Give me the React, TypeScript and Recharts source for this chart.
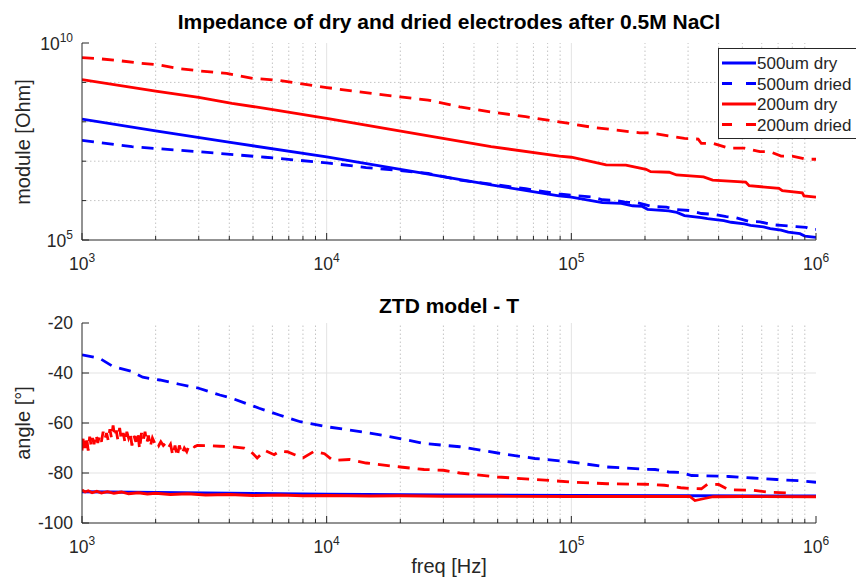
import { LineChart, Line, XAxis, YAxis, ReferenceLine, Legend } from 'recharts';

const FONT = '"Liberation Sans", Arial, Helvetica, sans-serif';
const AX = '#262626';
const BLUE = '#0000ff';
const RED = '#ff0000';
const DASH = '12 8';
const LW = 2.8;

// ---- module [Ohm] ----
const dry500Freq = [1e3, 2e3, 4.1e3, 1e4, 2.5e4, 4.7e4, 8.9e4, 1e5, 1.34e5, 1.6e5, 1.78e5, 1.95e5, 2.05e5, 2.5e5, 2.7e5, 2.9e5, 3.4e5, 3.6e5, 4.2e5, 4.5e5, 5.1e5, 5.4e5, 6.1e5, 6.5e5, 7.2e5, 7.7e5, 8.6e5, 9e5, 1e6];
const dry500Mod = [1.175e8, 5.89e7, 2.95e7, 1.29e7, 4.9e6, 2.51e6, 1.32e6, 1.23e6, 8.9e5, 8.5e5, 7.4e5, 7.1e5, 6.0e5, 5.5e5, 5.0e5, 4.17e5, 3.7e5, 3.47e5, 3.09e5, 2.82e5, 2.57e5, 2.34e5, 2.14e5, 1.95e5, 1.78e5, 1.58e5, 1.45e5, 1.26e5, 1.17e5];

const dried500Freq = [1e3, 1.6e3, 3e3, 5.6e3, 1e4, 1.45e4, 2e4, 2.6e4, 3.5e4, 4.7e4, 6.5e4, 8.9e4, 1.07e5, 1.22e5, 1.34e5, 1.52e5, 1.66e5, 1.86e5, 2.14e5, 2.45e5, 2.69e5, 3.04e5, 3.4e5, 3.8e5, 4.3e5, 4.7e5, 5.3e5, 5.9e5, 6.6e5, 7.2e5, 8.3e5, 9.1e5, 9.5e5, 1e6];
const dried500Mod = [3.39e7, 2.34e7, 1.74e7, 1.26e7, 9.1e6, 6.9e6, 5.75e6, 4.9e6, 3.31e6, 2.63e6, 2.0e6, 1.48e6, 1.32e6, 1.23e6, 1.05e6, 1.0e6, 9.1e5, 8.9e5, 7.1e5, 6.8e5, 5.9e5, 5.6e5, 4.7e5, 4.5e5, 3.9e5, 3.7e5, 3.0e5, 2.9e5, 2.45e5, 2.34e5, 2.19e5, 2.09e5, 1.9e5, 1.86e5];

const dry200Freq = [1e3, 2e3, 3e3, 4.1e3, 5.6e3, 1e4, 2.5e4, 4.7e4, 8.93e4, 1e5, 1.387e5, 1.67e5, 2.02e5, 2.11e5, 2.51e5, 2.69e5, 3.47e5, 3.78e5, 5.16e5, 5.33e5, 7.06e5, 7.28e5, 8.79e5, 8.93e5, 1e6];
const dry200Mod = [1.175e9, 6.03e8, 4.17e8, 2.95e8, 2.19e8, 1.23e8, 4.57e7, 2.34e7, 1.35e7, 1.26e7, 8.04e6, 7.94e6, 6.24e6, 5.43e6, 5.25e6, 4.47e6, 3.98e6, 3.31e6, 2.95e6, 2.4e6, 2.04e6, 1.78e6, 1.58e6, 1.32e6, 1.23e6];

const dried200Freq = [1e3, 1.18e3, 1.38e3, 1.72e3, 2.08e3, 2.5e3, 3.03e3, 3.9e3, 5e3, 6.2e3, 7.8e3, 1e4, 1.36e4, 2e4, 2.6e4, 3.5e4, 4.7e4, 6.5e4, 8.9e4, 1.22e5, 1.9e5, 2.1e5, 2.9e5, 3.3e5, 3.4e5, 3.8e5, 4.4e5, 5.1e5, 5.9e5, 6.5e5, 7.2e5, 8e5, 9.1e5, 1e6];
const dried200Mod = [4.27e9, 3.98e9, 3.63e9, 3.09e9, 2.75e9, 2.24e9, 1.95e9, 1.7e9, 1.26e9, 1.15e9, 9.3e8, 7.4e8, 5.75e8, 4.27e8, 3.55e8, 2.4e8, 1.78e8, 1.35e8, 1.0e8, 7.24e7, 5.25e7, 5.25e7, 3.8e7, 3.63e7, 2.82e7, 2.82e7, 2.14e7, 2.14e7, 1.74e7, 1.74e7, 1.35e7, 1.35e7, 1.12e7, 1.12e7];

// ---- angle [deg] ----
const dry500AngFreq = [1e3, 2e3, 5e3, 1e4, 3e4, 1e5, 3e5, 1e6];
const dry500Ang = [-87.5, -87.8, -88.2, -88.5, -88.8, -89, -89.1, -89.2];

const dried500AngFreq = [1e3, 1.18e3, 1.34e3, 1.6e3, 1.77e3, 2.08e3, 2.5e3, 3e3, 3.66e3, 4.1e3, 5.3e3, 6.4e3, 7.8e3, 1e4, 1.24e4, 1.7e4, 2.5e4, 3.5e4, 5e4, 7.1e4, 1e5, 1.4e5, 2e5, 2.2e5, 2.5e5, 2.8e5, 3.1e5, 3.5e5, 4.4e5, 5.5e5, 6.9e5, 8.9e5, 1e6];
const dried500Ang = [-32.7, -34.1, -37.4, -39.4, -41.7, -42.8, -44.5, -46.1, -48.8, -50.1, -54.1, -56.8, -59.5, -61.5, -62.8, -64.9, -68.2, -69.5, -72, -74.2, -75.6, -77.6, -78.5, -78.6, -79.6, -79.8, -81, -81.1, -81.4, -82, -82.6, -83.2, -83.7];

const dry200AngFreq = [1e3, 1.03e3, 1.06e3, 1.1e3, 1.15e3, 1.2e3, 1.27e3, 1.35e3, 1.45e3, 1.55e3, 1.7e3, 1.85e3, 2e3, 2.3e3, 2.7e3, 3.2e3, 4e3, 5e3, 6.5e3, 8e3, 1e4, 1.5e4, 2e4, 3e4, 5e4, 1e5, 2e5, 3.05e5, 3.2e5, 3.5e5, 3.8e5, 5e5, 1e6];
const dry200Ang = [-86.8, -87.6, -87.1, -87.9, -87.3, -88.0, -87.5, -88.1, -87.6, -88.3, -87.9, -88.4, -88.1, -88.6, -88.3, -88.8, -88.6, -89, -88.8, -89.1, -89, -89.2, -89.1, -89.3, -89.3, -89.4, -89.4, -89.4, -91, -90.2, -89.5, -89.4, -89.5];

const dried200AngFreq = [
  1000, 1015, 1030, 1045, 1060, 1075, 1090, 1105, 1120, 1140, 1160, 1180, 1200, 1220, 1240, 1260, 1280, 1300, 1320, 1340,
  1360, 1380, 1400, 1425, 1450, 1475, 1500, 1525, 1550, 1575, 1600, 1630, 1660, 1690, 1720, 1750, 1780, 1810, 1840, 1870,
  1900, 1940, 1980, 2020, 2060, 2100, 2150, 2200, 2250, 2300, 2350, 2400, 2450, 2500, 2560, 2620, 2680, 2740, 2800, 2880,
  2960, 3.3e3, 3.66e3, 4.1e3, 4.6e3, 4.85e3, 5.2e3, 5.6e3, 6.1e3, 6.4e3, 6.9e3, 7.4e3, 8e3, 8.9e3, 9.8e3, 1.06e4, 1.24e4,
  1.45e4, 2e4, 2.5e4, 3e4, 3.5e4, 5e4, 7.1e4, 1e5, 1.4e5, 2e5, 2.4e5, 2.8e5, 3.1e5, 3.4e5, 3.6e5, 4e5, 4.4e5, 5.5e5, 6.3e5,
  7.9e5, 1e6,
];
const dried200Ang = [
  -71, -65, -70, -66, -71, -65.5, -69, -66, -68.5, -64.5, -68, -65, -67.5, -63.5, -66.5, -64, -67, -62.5, -66, -61,
  -65.5, -63, -66.5, -62, -67, -64, -68, -63.5, -66, -64, -69, -65, -67.5, -63.5, -70.5, -64, -67, -63.5, -68, -65,
  -69.5, -66, -68, -67, -69, -67.5, -69, -68, -70, -68.5, -73, -69, -73.5, -69, -72.5, -70, -71.5, -69, -68.5, -69.5,
  -69, -69.1, -69.3, -69.5, -70, -71, -74, -71, -72.7, -71.3, -71.5, -72.7, -74, -71.3, -72.3, -75, -74.6,
  -76, -77.6, -78.6, -78.9, -80, -81.6, -82.6, -83.6, -84.3, -84.5, -84.9, -85.9, -86.2, -86.3, -84.5, -84.6, -86.7, -86.9,
  -87.6, -88,
];

// ---- axes ----
const freqDecades = [1e3, 1e4, 1e5, 1e6];
const freqMinor = [2e3, 3e3, 4e3, 5e3, 6e3, 7e3, 8e3, 9e3, 2e4, 3e4, 4e4, 5e4, 6e4, 7e4, 8e4, 9e4, 2e5, 3e5, 4e5, 5e5, 6e5, 7e5, 8e5, 9e5];
const freqTicks = [...freqDecades, ...freqMinor].sort((a, b) => a - b);
const modLabelled = [1e5, 1e10];
const modMinor = [1e6, 1e7, 1e8, 1e9];
const modTicks = [1e5, 1e6, 1e7, 1e8, 1e9, 1e10];
const angleTicks = [-100, -80, -60, -40, -20];
const angleGrid = [-80, -60, -40];

const legendNames = ['500um dry', '500um dried', '200um dry', '200um dried'];

const pts = (f: number[], v: number[]) => f.map((x, i) => ({ f: x, v: v[i] }));
const isDecade = (v: number) => Math.abs(Math.log10(v) - Math.round(Math.log10(v))) < 1e-6;
const expOf = (v: number) => Math.round(Math.log10(v));

const PowLabel = ({ x, y, v, anchor }: any) => (
  <text x={x} y={y} textAnchor={anchor} fontFamily={FONT} fontSize={17.5} fill={AX}>
    <tspan>10</tspan>
    <tspan dy={-8} fontSize={12}>{expOf(v)}</tspan>
  </text>
);

const FreqTickBottom = (props: any) => {
  const { x, y, payload } = props;
  const major = isDecade(payload.value);
  return (
    <g>
      <line x1={x} x2={x} y1={y} y2={y - (major ? 7 : 4)} stroke={AX} />
      {major && <PowLabel x={x} y={y + 30} v={payload.value} anchor="middle" />}
    </g>
  );
};

const FreqTickTop = (props: any) => {
  const { x, y, payload } = props;
  const major = isDecade(payload.value);
  return <line x1={x} x2={x} y1={y} y2={y + (major ? 7 : 4)} stroke={AX} />;
};

const ModTickLeft = (props: any) => {
  const { x, y, payload } = props;
  const major = modLabelled.includes(payload.value);
  return (
    <g>
      <line x1={x} x2={x + (major ? 7 : 4)} y1={y} y2={y} stroke={AX} />
      {major && <PowLabel x={x - 9} y={y + 7} v={payload.value} anchor="end" />}
    </g>
  );
};

const ModTickRight = (props: any) => {
  const { x, y, payload } = props;
  const major = modLabelled.includes(payload.value);
  return <line x1={x} x2={x - (major ? 7 : 4)} y1={y} y2={y} stroke={AX} />;
};

const AngTickLeft = (props: any) => {
  const { x, y, payload } = props;
  return (
    <g>
      <line x1={x} x2={x + 7} y1={y} y2={y} stroke={AX} />
      <text x={x - 9} y={y + 6} textAnchor="end" fontFamily={FONT} fontSize={17.5} fill={AX}>
        {payload.value}
      </text>
    </g>
  );
};

const AngTickRight = (props: any) => {
  const { x, y } = props;
  return <line x1={x} x2={x - 7} y1={y} y2={y} stroke={AX} />;
};

const LegendBox = () => (
  <svg width={150} height={92} style={{ display: 'block' }}>
    <rect x={0.5} y={0.5} width={160} height={90} fill="#fff" stroke={AX} />
    {legendNames.map((name, i) => {
      const cy = 15 + i * 20.5;
      const color = i < 2 ? BLUE : RED;
      const dashed = i % 2 === 1;
      return (
        <g key={name}>
          <line x1={4} x2={38} y1={cy} y2={cy} stroke={color} strokeWidth={LW} strokeDasharray={dashed ? '10 14' : undefined} />
          <text x={39} y={cy + 6} fontFamily={FONT} fontSize={17} fill={AX}>{name}</text>
        </g>
      );
    })}
  </svg>
);

const minorGrid = { stroke: '#c4c4c4', strokeDasharray: '1.5 2.5', strokeWidth: 1 };
const majorGrid = { stroke: '#e3e3e3', strokeWidth: 1 };

const App = () => {
  return (
    <div style={{ position: 'fixed', left: 0, top: 0, width: 856, height: 583, background: '#fff', overflow: 'hidden' }}>
      <div style={{ position: 'absolute', left: 0, top: 0 }}>
        <LineChart width={856} height={290} margin={{ top: 43, right: 40, left: 0, bottom: 0 }}>
          <XAxis xAxisId="b" dataKey="f" type="number" scale="log" domain={[1e3, 1e6]} ticks={freqTicks} allowDataOverflow
            height={50} tickSize={0} tickMargin={0} stroke={AX} tick={FreqTickBottom} interval={0} />
          <XAxis xAxisId="t" orientation="top" dataKey="f" type="number" scale="log" domain={[1e3, 1e6]} ticks={freqTicks} allowDataOverflow
            height={0} tickSize={0} tickMargin={0} stroke={AX} tick={FreqTickTop} interval={0} />
          <YAxis yAxisId="l" type="number" scale="log" domain={[1e5, 1e10]} ticks={modTicks} allowDataOverflow
            width={82} tickSize={0} tickMargin={0} stroke={AX} tick={ModTickLeft} interval={0} />
          <YAxis yAxisId="r" orientation="right" type="number" scale="log" domain={[1e5, 1e10]} ticks={modTicks} allowDataOverflow
            width={0} tickSize={0} tickMargin={0} stroke={AX} tick={ModTickRight} interval={0} />
          {freqMinor.map((v) => (
            <ReferenceLine key={`vm${v}`} xAxisId="b" yAxisId="l" x={v} {...minorGrid} />
          ))}
          {[1e4, 1e5].map((v) => (
            <ReferenceLine key={`vM${v}`} xAxisId="b" yAxisId="l" x={v} {...majorGrid} />
          ))}
          {modMinor.map((v) => (
            <ReferenceLine key={`hm${v}`} xAxisId="b" yAxisId="l" y={v} {...minorGrid} />
          ))}
          <Line xAxisId="b" yAxisId="l" data={pts(dry500Freq, dry500Mod)} dataKey="v" name={legendNames[0]} stroke={BLUE} strokeWidth={LW} dot={false} isAnimationActive={false} />
          <Line xAxisId="b" yAxisId="l" data={pts(dried500Freq, dried500Mod)} dataKey="v" name={legendNames[1]} stroke={BLUE} strokeWidth={LW} strokeDasharray={DASH} dot={false} isAnimationActive={false} />
          <Line xAxisId="b" yAxisId="l" data={pts(dry200Freq, dry200Mod)} dataKey="v" name={legendNames[2]} stroke={RED} strokeWidth={LW} dot={false} isAnimationActive={false} />
          <Line xAxisId="b" yAxisId="l" data={pts(dried200Freq, dried200Mod)} dataKey="v" name={legendNames[3]} stroke={RED} strokeWidth={LW} strokeDasharray={DASH} dot={false} isAnimationActive={false} />
          <Legend layout="vertical" align="center" verticalAlign="middle" content={LegendBox}
            wrapperStyle={{ left: 718, top: 48, width: 150, height: 92 }} />
        </LineChart>
      </div>

      <div style={{ position: 'absolute', left: 0, top: 290 }}>
        <LineChart width={856} height={293} margin={{ top: 33, right: 40, left: 0, bottom: 0 }}>
          <XAxis xAxisId="b" dataKey="f" type="number" scale="log" domain={[1e3, 1e6]} ticks={freqTicks} allowDataOverflow
            height={60} tickSize={0} tickMargin={0} stroke={AX} tick={FreqTickBottom} interval={0} />
          <XAxis xAxisId="t" orientation="top" dataKey="f" type="number" scale="log" domain={[1e3, 1e6]} ticks={freqTicks} allowDataOverflow
            height={0} tickSize={0} tickMargin={0} stroke={AX} tick={FreqTickTop} interval={0} />
          <YAxis yAxisId="l" type="number" domain={[-100, -20]} ticks={angleTicks} allowDataOverflow
            width={82} tickSize={0} tickMargin={0} stroke={AX} tick={AngTickLeft} interval={0} />
          <YAxis yAxisId="r" orientation="right" type="number" domain={[-100, -20]} ticks={angleTicks} allowDataOverflow
            width={0} tickSize={0} tickMargin={0} stroke={AX} tick={AngTickRight} interval={0} />
          {freqMinor.map((v) => (
            <ReferenceLine key={`vm${v}`} xAxisId="b" yAxisId="l" x={v} {...minorGrid} />
          ))}
          {[1e4, 1e5].map((v) => (
            <ReferenceLine key={`vM${v}`} xAxisId="b" yAxisId="l" x={v} {...majorGrid} />
          ))}
          {angleGrid.map((v) => (
            <ReferenceLine key={`h${v}`} xAxisId="b" yAxisId="l" y={v} {...majorGrid} />
          ))}
          <Line xAxisId="b" yAxisId="l" data={pts(dry500AngFreq, dry500Ang)} dataKey="v" stroke={BLUE} strokeWidth={LW} dot={false} isAnimationActive={false} />
          <Line xAxisId="b" yAxisId="l" data={pts(dried500AngFreq, dried500Ang)} dataKey="v" stroke={BLUE} strokeWidth={LW} strokeDasharray={DASH} dot={false} isAnimationActive={false} />
          <Line xAxisId="b" yAxisId="l" data={pts(dry200AngFreq, dry200Ang)} dataKey="v" stroke={RED} strokeWidth={LW} dot={false} isAnimationActive={false} />
          <Line xAxisId="b" yAxisId="l" data={pts(dried200AngFreq, dried200Ang)} dataKey="v" stroke={RED} strokeWidth={LW} strokeDasharray={DASH} dot={false} isAnimationActive={false} />
        </LineChart>
      </div>

      <svg width={856} height={583} style={{ position: 'absolute', left: 0, top: 0, pointerEvents: 'none' }}>
        <text x={449} y={29} textAnchor="middle" fontFamily={FONT} fontSize={21} fontWeight="bold" fill="#000">
          Impedance of dry and dried electrodes after 0.5M NaCl
        </text>
        <text x={449} y={313} textAnchor="middle" fontFamily={FONT} fontSize={21} fontWeight="bold" fill="#000">
          ZTD model - T
        </text>
        <text x={449} y={573} textAnchor="middle" fontFamily={FONT} fontSize={20} fill={AX}>
          freq [Hz]
        </text>
        <text transform="translate(30,142) rotate(-90)" textAnchor="middle" fontFamily={FONT} fontSize={20} fill={AX}>
          module [Ohm]
        </text>
        <text transform="translate(30,423) rotate(-90)" textAnchor="middle" fontFamily={FONT} fontSize={20} fill={AX}>
          angle [°]
        </text>
      </svg>
    </div>
  );
};

export default App;
